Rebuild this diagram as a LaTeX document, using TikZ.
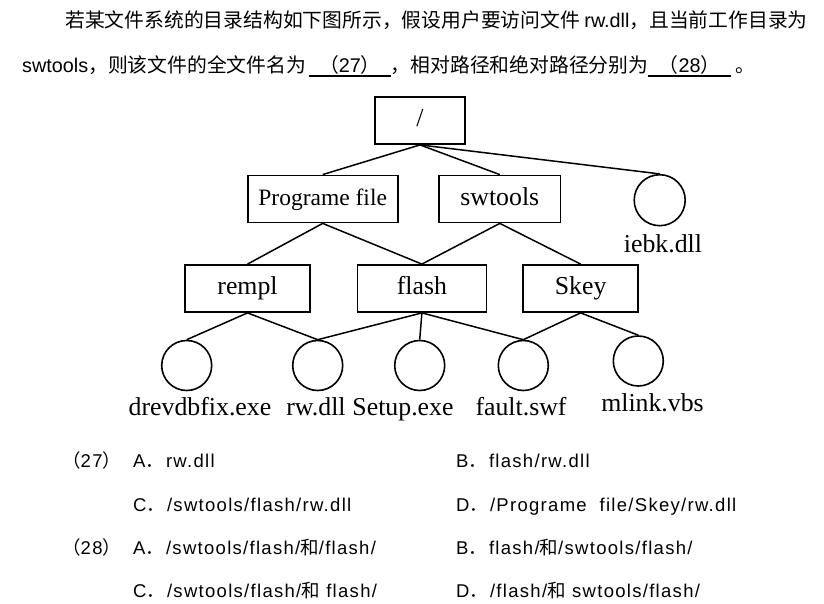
\documentclass[tikz,border=0pt]{standalone}
\usepackage{fontspec}
\setmainfont{Liberation Serif}
\newfontfamily\cjk{Noto Sans CJK SC}
\newfontfamily\arial{Liberation Sans}
\newfontfamily\optfont[LetterSpace=7]{Liberation Sans}
\usepackage{tikz}
\usetikzlibrary{positioning}
\tikzstyle{dirbox} = [rectangle, draw=black, line width=1.8pt, minimum height=47pt, inner sep=0pt, text height=17.5pt, text depth=5.5pt, font=\fontsize{25.8}{28}\selectfont]
\tikzstyle{filecirc} = [circle, draw=black, line width=1.6pt, minimum size=50pt, inner sep=0pt]
\tikzstyle{filelabel} = [anchor=base, inner sep=0pt, font=\fontsize{25.8}{28}\selectfont]
\tikzstyle{edge} = [line width=1.5pt]
\tikzstyle{qtext} = [anchor=base west, inner sep=0pt, font=\cjk\fontsize{19.8}{22}\selectfont]
\tikzstyle{blank} = [qtext, minimum width=81pt, text depth=2.5pt]
\tikzstyle{uline} = [line width=1.8pt]
\tikzstyle{opt} = [anchor=base west, inner sep=0pt, font=\optfont\fontsize{18.5}{20}\selectfont]
\newcommand{\fdot}{{\cjk ．}\hspace{2pt}}
\newcommand{\zhhe}{{\cjk 和}}
\newcommand{\zlp}{{\cjk （}}
\newcommand{\zrp}{{\cjk ）}}
\begin{document}
\begin{tikzpicture}[x=1pt, y=-1pt]
    \useasboundingbox (0,0) rectangle (824,604);

    % Question text
    \node (q1) [qtext] at (65,27.5) {若某文件系统的目录结构如下图所示，假设用户要访问文件 {\arial rw.dll}，且当前工作目录为};
    \node (q2a) [qtext] at (22,73) {{\arial swtools}，则该文件的全文件名为};
    \node (b27) [blank, base right=3pt of q2a] {\zlp{\arial 27}\zrp};
    \node (q2b) [qtext, base right=0pt of b27] {，相对路径和绝对路径分别为};
    \node (b28) [blank, base right=0pt of q2b, minimum width=82pt] {\zlp{\arial 28}\zrp};
    \node (q2c) [qtext, base right=4pt of b28] {。};
    \draw [uline] (b27.south west) -- (b27.south east);
    \draw [uline] (b28.south west) -- (b28.south east);

    % Directories
    \node (root) [dirbox, minimum width=90pt] at (420,120.5) {/};
    \node (prog) [dirbox, minimum width=150pt, font=\fontsize{23.5}{26}\selectfont] at (322.7,199) {Programe file};
    \node (swtools) [dirbox, minimum width=121.5pt] at (499.8,199) {swtools};
    \node (rempl) [dirbox, minimum width=124.6pt] at (247.5,288.5) {rempl};
    \node (flash) [dirbox, minimum width=129pt] at (421.9,288.5) {flash};
    \node (skey) [dirbox, minimum width=114.7pt] at (580.6,288.5) {Skey};

    % Files
    \node (iebk) [filecirc, minimum size=51pt] at (659.7,200.2) {};
    \node (drev) [filecirc] at (186.7,365.5) {};
    \node (rwdll) [filecirc] at (317.7,365.5) {};
    \node (setup) [filecirc] at (419.7,365.5) {};
    \node (fault) [filecirc] at (523.3,365.5) {};
    \node (mlink) [filecirc] at (638.3,361) {};
    \node (lbl-iebk) [filelabel] at (663,252) {iebk.dll};
    \node (lbl-drev) [filelabel] at (200,415) {drevdbfix.exe};
    \node (lbl-rwdll) [filelabel] at (316,415) {rw.dll};
    \node (lbl-setup) [filelabel] at (403,415) {Setup.exe};
    \node (lbl-fault) [filelabel] at (521,415) {fault.swf};
    \node (lbl-mlink) [filelabel] at (652.5,411.5) {mlink.vbs};

    % Edges
    \draw [edge] (root.south) -- (prog.north);
    \draw [edge] (root.south) -- (swtools.north);
    \draw [edge] (root.south) -- (iebk.north);
    \draw [edge] (prog.south) -- (rempl.north);
    \draw [edge] (prog.south) -- (flash.north);
    \draw [edge] (swtools.south) -- (flash.north);
    \draw [edge] (swtools.south) -- (skey.north);
    \draw [edge] (rempl.south) -- (drev.north);
    \draw [edge] (rempl.south) -- (rwdll.north);
    \draw [edge] (flash.south) -- (rwdll.north);
    \draw [edge] (flash.south) -- (setup.north);
    \draw [edge] (flash.south) -- (fault.north);
    \draw [edge] (skey.south) -- (fault.north);
    \draw [edge] (skey.south) -- (mlink.north);

    % Options
    \node (n27) [opt] at (62,467.5) {\zlp 27\zrp};
    \node (o27a) [opt] at (133,467.5) {A\fdot rw.dll};
    \node (o27b) [opt] at (456,467.5) {B\fdot flash/rw.dll};
    \node (o27c) [opt] at (133,511) {C\fdot /swtools/flash/rw.dll};
    \node (o27d) [opt] at (456,511) {D\fdot /Programe\ \ file/Skey/rw.dll};
    \node (n28) [opt] at (62,554.5) {\zlp 28\zrp};
    \node (o28a) [opt] at (133,554.5) {A\fdot /swtools/flash/\zhhe/flash/};
    \node (o28b) [opt] at (456,554.5) {B\fdot flash/\zhhe/swtools/flash/};
    \node (o28c) [opt] at (133,597.5) {C\fdot /swtools/flash/\zhhe\ flash/};
    \node (o28d) [opt] at (456,597.5) {D\fdot /flash/\zhhe\ swtools/flash/};
\end{tikzpicture}
\end{document}
